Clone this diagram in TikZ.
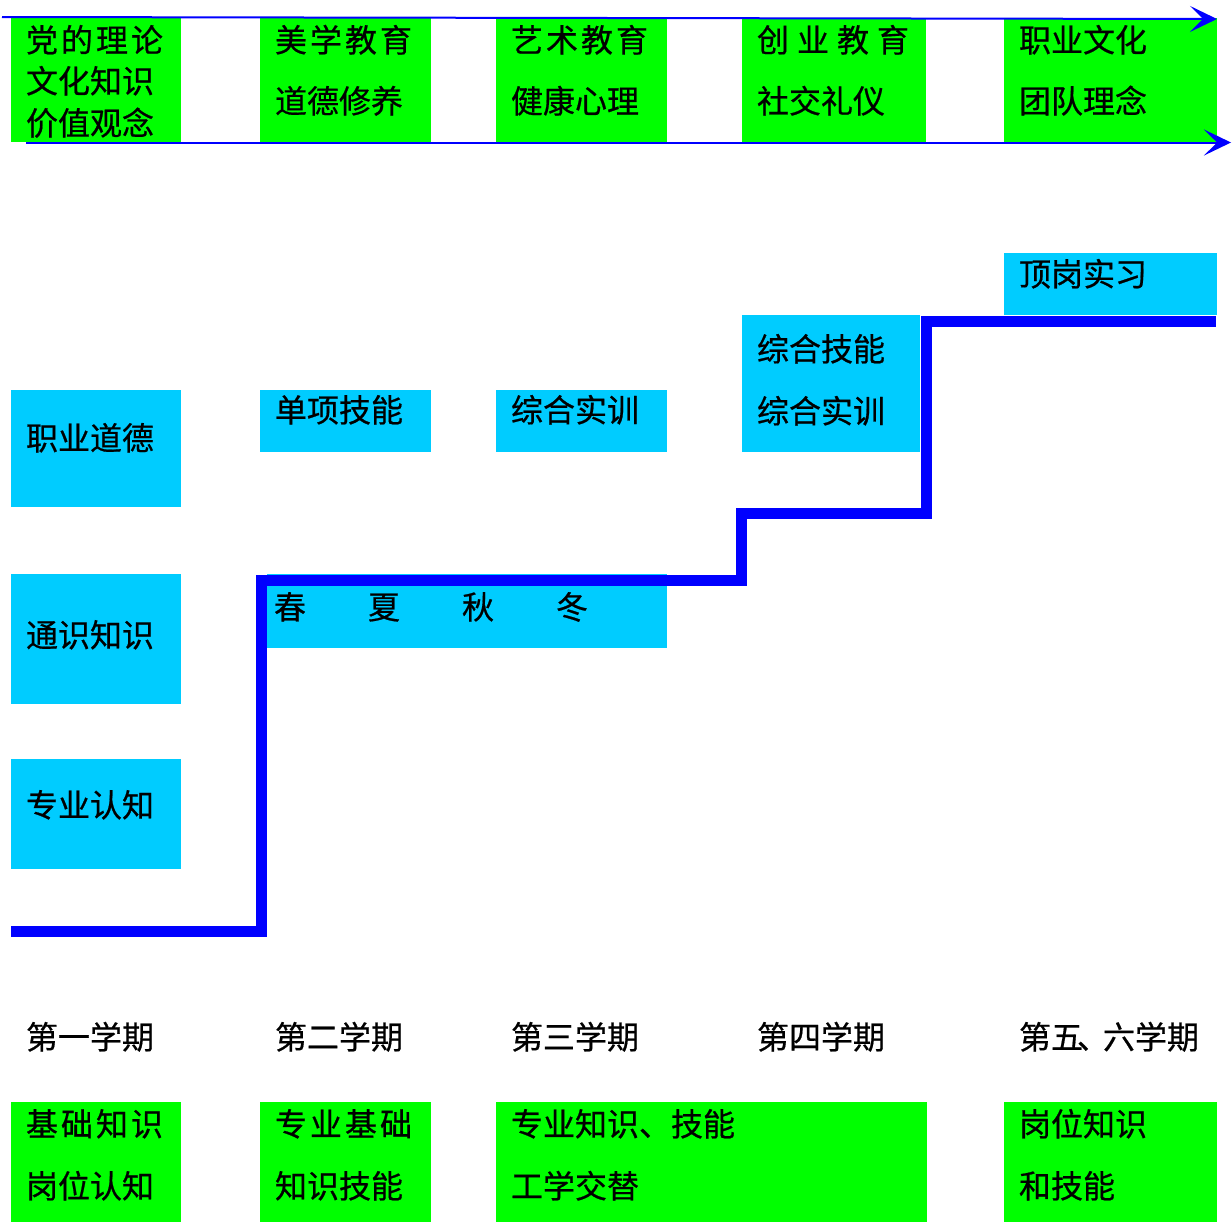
\documentclass[tikz,border=0pt]{standalone}
\usepackage{fontspec}
\setmainfont[FakeBold=0.6]{Noto Sans CJK SC}
\usetikzlibrary{arrows.meta}
\definecolor{boxgreen}{HTML}{00FF00}
\definecolor{boxcyan}{HTML}{00CCFF}
\definecolor{lineblue}{HTML}{0000FF}
\newcommand{\gapx}[1][3pt]{\hspace{#1}}
\begin{document}
\begin{tikzpicture}[x=1pt,y=-1pt,
  gbox/.style={fill=boxgreen,draw=none,inner sep=0pt,outer sep=0pt,anchor=north west},
  cbox/.style={fill=boxcyan,draw=none,inner sep=0pt,outer sep=0pt,anchor=north west},
  lbl/.style={inner sep=0pt,outer sep=0pt,anchor=base west,font=\fontsize{32pt}{32pt}\selectfont},
  thinarrow/.style={draw=lineblue,line width=2pt,-{Stealth[length=27pt,width=26pt,inset=13pt]}},
  stair/.style={draw=lineblue,line width=11pt,line join=miter}
]
\useasboundingbox (0,0) rectangle (1232,1224);
% top green boxes
\node[gbox,minimum width=170pt,minimum height=124pt] (g1) at (11,18) {};
\node[gbox,minimum width=171pt,minimum height=124pt] (g2) at (260,18) {};
\node[gbox,minimum width=171pt,minimum height=124pt] (g3) at (496,18) {};
\node[gbox,minimum width=184pt,minimum height=124pt] (g4) at (742,18) {};
\node[gbox,minimum width=213pt,minimum height=124pt] (g5) at (1004,18) {};
% cyan boxes
\node[cbox,minimum width=170pt,minimum height=117pt] (c1) at (11,390) {};
\node[cbox,minimum width=171pt,minimum height=62pt] (c2) at (260,390) {};
\node[cbox,minimum width=171pt,minimum height=62pt] (c3) at (496,390) {};
\node[cbox,minimum width=178pt,minimum height=137pt] (c4) at (742,315) {};
\node[cbox,minimum width=213pt,minimum height=62pt] (c5) at (1004,253) {};
\node[cbox,minimum width=170pt,minimum height=130pt] (c6) at (11,574) {};
\node[cbox,minimum width=400pt,minimum height=74pt] (c7) at (267,574) {};
\node[cbox,minimum width=170pt,minimum height=110pt] (c8) at (11,759) {};
% bottom green boxes
\node[gbox,minimum width=170pt,minimum height=120pt] (b1) at (11,1102) {};
\node[gbox,minimum width=171pt,minimum height=120pt] (b2) at (260,1102) {};
\node[gbox,minimum width=431pt,minimum height=120pt] (b3) at (496,1102) {};
\node[gbox,minimum width=213pt,minimum height=120pt] (b4) at (1004,1102) {};
% staircase
\coordinate (s0) at (11,931);
\coordinate (s1) at (261,931);
\coordinate (s2) at (261,580);
\coordinate (s3) at (741,580);
\coordinate (s4) at (741,513);
\coordinate (s5) at (926,513);
\coordinate (s6) at (926,321);
\coordinate (s7) at (1216,321);
\draw[stair] (s0) -- (s1) -- (s2) -- (s3) -- (s4) -- (s5) -- (s6) -- (s7);
% top arrows
\coordinate (a0) at (2,17);
\coordinate (a1) at (1217,19);
\coordinate (a2) at (26,142.5);
\coordinate (a3) at (1231,142.5);
\draw[thinarrow] (a0) -- (a1);
\draw[thinarrow] (a2) -- (a3);
% texts
\node[lbl] (t1) at (26,52) {党\gapx 的\gapx 理\gapx 论};
\node[lbl] (t2) at (26,93) {文化知识};
\node[lbl] (t3) at (26,135) {价值观念};
\node[lbl] (t4) at (275,52) {美\gapx 学\gapx 教\gapx 育};
\node[lbl] (t5) at (275,113) {道德修养};
\node[lbl] (t6) at (511,52) {艺\gapx 术\gapx 教\gapx 育};
\node[lbl] (t7) at (511,113) {健康心理};
\node[lbl] (t8) at (757,52) {创\gapx[8pt]业\gapx[8pt]教\gapx[8pt]育};
\node[lbl] (t9) at (757,113) {社交礼仪};
\node[lbl] (t10) at (1019,52) {职业文化};
\node[lbl] (t11) at (1019,113) {团队理念};
\node[lbl] (t12) at (1019,286) {顶岗实习};
\node[lbl] (t13) at (757,361) {综合技能};
\node[lbl] (t14) at (757,423) {综合实训};
\node[lbl] (t15) at (275,422) {单项技能};
\node[lbl] (t16) at (511,422) {综合实训};
\node[lbl] (t17) at (26,450) {职业道德};
\node[lbl] (t18) at (274,619) {春\gapx[62pt]夏\gapx[62pt]秋\gapx[62pt]冬};
\node[lbl] (t19) at (26,647) {通识知识};
\node[lbl] (t20) at (26,817) {专业认知};
\node[lbl] (t21) at (26,1049) {第一学期};
\node[lbl] (t22) at (275,1049) {第二学期};
\node[lbl] (t23) at (511,1049) {第三学期};
\node[lbl] (t24) at (757,1049) {第四学期};
\node[lbl] (t25) at (1019,1049) {第五\hspace{-6pt}、\hspace{-6pt}六学期};
\node[lbl] (t26) at (26,1136) {基\gapx 础\gapx 知\gapx 识};
\node[lbl] (t27) at (26,1198) {岗位认知};
\node[lbl] (t28) at (275,1136) {专\gapx 业\gapx 基\gapx 础};
\node[lbl] (t29) at (275,1198) {知识技能};
\node[lbl] (t30) at (511,1136) {专业知识、技能};
\node[lbl] (t31) at (511,1198) {工学交替};
\node[lbl] (t32) at (1019,1136) {岗位知识};
\node[lbl] (t33) at (1019,1198) {和技能};
\end{tikzpicture}
\end{document}
